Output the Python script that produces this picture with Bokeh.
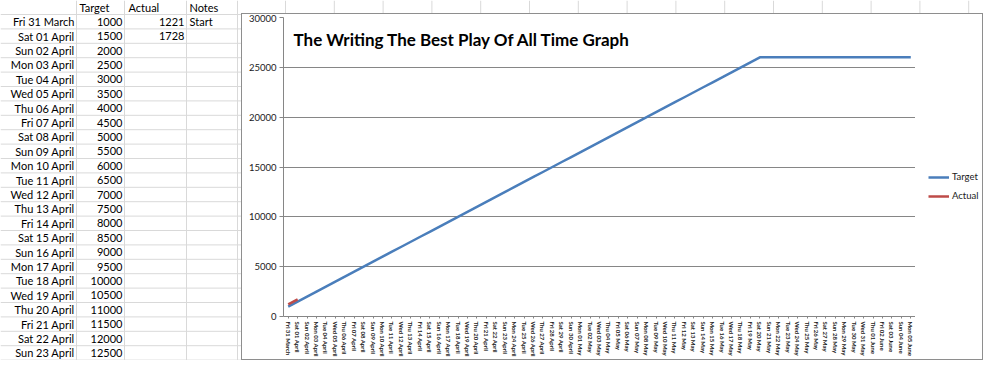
from bokeh.plotting import figure
from bokeh.models import FactorRange, Range1d, FixedTicker, Legend, Label
from bokeh.layouts import row, column
from bokeh.core.properties import value
from bokeh.embed import file_html
from bokeh.resources import INLINE

# ---------------- data ----------------
dates = [
    "Fri 31 March",
    "Sat 01 April", "Sun 02 April", "Mon 03 April", "Tue 04 April", "Wed 05 April",
    "Thu 06 April", "Fri 07 April", "Sat 08 April", "Sun 09 April", "Mon 10 April",
    "Tue 11 April", "Wed 12 April", "Thu 13 April", "Fri 14 April", "Sat 15 April",
    "Sun 16 April", "Mon 17 April", "Tue 18 April", "Wed 19 April", "Thu 20 April",
    "Fri 21 April", "Sat 22 April", "Sun 23 April", "Mon 24 April", "Tue 25 April",
    "Wed 26 April", "Thu 27 April", "Fri 28 April", "Sat 29 April", "Sun 30 April",
    "Mon 01 May", "Tue 02 May", "Wed 03 May", "Thu 04 May", "Fri 05 May",
    "Sat 06 May", "Sun 07 May", "Mon 08 May", "Tue 09 May", "Wed 10 May",
    "Thu 11 May", "Fri 12 May", "Sat 13 May", "Sun 14 May", "Mon 15 May",
    "Tue 16 May", "Wed 17 May", "Thu 18 May", "Fri 19 May", "Sat 20 May",
    "Sun 21 May", "Mon 22 May", "Tue 23 May", "Wed 24 May", "Thu 25 May",
    "Fri 26 May", "Sat 27 May", "Sun 28 May", "Mon 29 May", "Tue 30 May",
    "Wed 31 May",
    "Thu 01 June", "Fri 02 June", "Sat 03 June", "Sun 04 June", "Mon 05 June",
]
target = [
    1000, 1500, 2000, 2500, 3000, 3500, 4000, 4500, 5000, 5500,
    6000, 6500, 7000, 7500, 8000, 8500, 9000, 9500, 10000, 10500,
    11000, 11500, 12000, 12500, 13000, 13500, 14000, 14500, 15000, 15500,
    16000, 16500, 17000, 17500, 18000, 18500, 19000, 19500, 20000, 20500,
    21000, 21500, 22000, 22500, 23000, 23500, 24000, 24500, 25000, 25500,
    26000, 26000, 26000, 26000, 26000, 26000, 26000, 26000, 26000, 26000,
    26000, 26000, 26000, 26000, 26000, 26000, 26000,
]
actual = [1221, 1728]
notes = ["Start"]
headers = ["Target", "Actual", "Notes"]
series_names = ["Target", "Actual"]
series_colors = ["#4A7EBB", "#BE4B48"]
y_ticks = [0, 5000, 10000, 15000, 20000, 25000, 30000]
chart_title = "The Writing The Best Play Of All Time Graph"

FONT = "Lato"
GRID = "#D9D9D9"


def no_frame_align(fig):
    if "frame_align" in fig.properties():
        fig.frame_align = False


def blank_fig(w, h, xr, yr):
    f = figure(width=w, height=h, x_range=xr, y_range=yr, output_backend="svg",
               toolbar_location=None, min_border=0, x_axis_type=None, y_axis_type=None)
    f.outline_line_color = None
    f.xgrid.visible = False
    f.ygrid.visible = False
    f.background_fill_color = "white"
    f.border_fill_color = "white"
    no_frame_align(f)
    return f


# ---------------- spreadsheet (left part) ----------------
sheet = blank_fig(241, 360, Range1d(0, 241), Range1d(360, 0))

PITCH = 14.4
col_lines = [76, 124, 186, 237]
row_lines = [14 + PITCH * k for k in range(25)]
sheet.segment(x0=col_lines, y0=[0] * len(col_lines), x1=col_lines, y1=[380] * len(col_lines),
              line_color=GRID, line_width=1)
sheet.segment(x0=[0] * len(row_lines), y0=row_lines, x1=[241] * len(row_lines), y1=row_lines,
              line_color=GRID, line_width=1)

n_rows = 24
row_y = [14 + PITCH * (i + 0.5) for i in range(n_rows)]
common = dict(text_font=value(FONT), text_font_size="11px", text_baseline="middle",
              text_color="black")
sheet.text(x=[74] * n_rows, y=row_y, text=dates[:n_rows], text_align="right", **common)
sheet.text(x=[122] * n_rows, y=row_y, text=[str(v) for v in target[:n_rows]],
           text_align="right", **common)
sheet.text(x=[184] * len(actual), y=row_y[:len(actual)], text=[str(v) for v in actual],
           text_align="right", **common)
sheet.text(x=[189] * len(notes), y=row_y[:len(notes)], text=notes, text_align="left", **common)
sheet.text(x=[79, 128, 189], y=[6.8] * 3, text=headers, text_align="left", **common)

# strip of spreadsheet grid visible above the chart object
strip = blank_fig(742, 13, Range1d(241, 983), Range1d(13, 0))
strip_cols = [285 + 48.8 * k for k in range(15)]
strip.segment(x0=strip_cols, y0=[0] * len(strip_cols), x1=strip_cols, y1=[13] * len(strip_cols),
              line_color=GRID, line_width=1)

# ---------------- chart ----------------
p = figure(width=673, height=345, x_range=FactorRange(factors=dates), y_range=Range1d(0, 30000),
           output_backend="svg", toolbar_location=None,
           min_border_left=41, min_border_right=0, min_border_top=3, min_border_bottom=40)
no_frame_align(p)
p.outline_line_color = None
p.background_fill_color = "white"
p.border_fill_color = "white"
p.xgrid.visible = False
p.ygrid.grid_line_color = "#868686"
p.ygrid.grid_line_width = 1

p.yaxis.ticker = FixedTicker(ticks=y_ticks)
p.yaxis.axis_line_color = "#868686"
p.yaxis.major_tick_line_color = "#868686"
p.yaxis.major_tick_out = 4
p.yaxis.major_tick_in = 0
p.yaxis.minor_tick_line_color = None
p.yaxis.major_label_standoff = 3
p.yaxis.major_label_text_font = FONT
p.yaxis.major_label_text_font_size = "9.5px"
p.yaxis.major_label_text_color = "#1a1a1a"

p.xaxis.axis_line_color = "#868686"
p.xaxis.major_tick_line_color = "#868686"
p.xaxis.major_tick_out = 2
p.xaxis.major_tick_in = 0
p.xaxis.major_label_orientation = "vertical"
p.xaxis.major_label_standoff = 3
p.xaxis.major_label_text_font = FONT
p.xaxis.major_label_text_font_size = "6px"
p.xaxis.major_label_text_font_style = "bold"
p.xaxis.major_label_text_color = "#1a1a1a"

p.line(x=dates, y=target, line_color=series_colors[0], line_width=2.5)
p.line(x=dates[:len(actual)], y=actual, line_color=series_colors[1], line_width=2.5)

title = Label(x=10, y=277, x_units="screen", y_units="screen", text=chart_title,
              text_font=FONT, text_font_size="17px", text_font_style="bold",
              text_baseline="middle", text_align="left", text_color="black")
p.add_layout(title)

# ---------------- legend area (right part of the chart object) ----------------
# legend keys come from off-screen proxy renderers styled like the chart's series
lg = blank_fig(67, 345, Range1d(0, 1), Range1d(0, 1))
legend_items = []
for name, col in zip(series_names, series_colors):
    r = lg.line(x=[5, 6], y=[5, 5], line_color=col, line_width=2.5)
    legend_items.append((name, [r]))
legend = Legend(items=legend_items, location=(13, 158), padding=0, margin=0, spacing=8,
                glyph_width=21, glyph_height=10, label_height=10, label_standoff=3,
                label_text_font=FONT, label_text_font_size="9.5px", label_text_color="#1a1a1a",
                border_line_color=None, background_fill_alpha=0)
lg.add_layout(legend)

box = row(p, lg, spacing=0, styles={"border": "1px solid #8E8E8E"})
layout = row(sheet, column(strip, box, spacing=0), spacing=0)

open("out.html", "w").write(file_html(layout, INLINE))
